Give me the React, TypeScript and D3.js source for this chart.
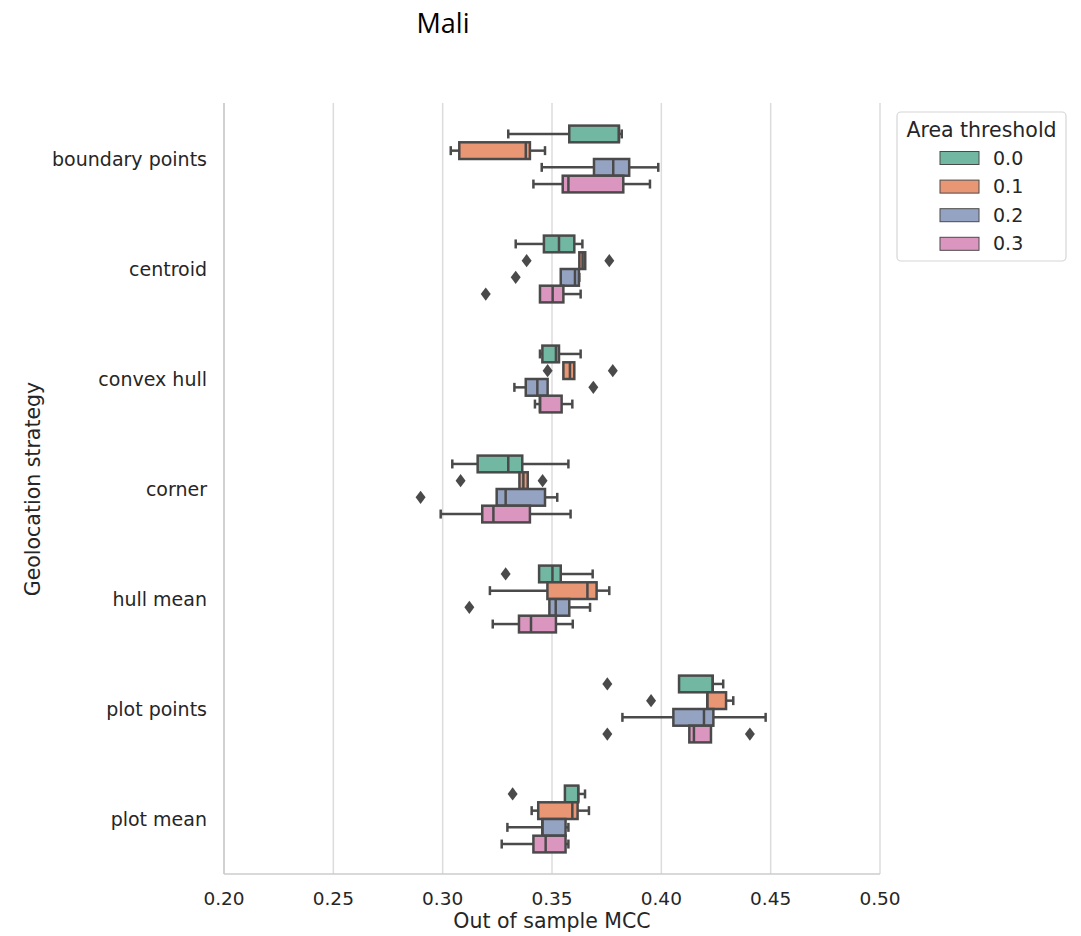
import React from "react";
import * as d3 from "d3";

// Geolocation strategies on the y axis
const categories = [
  "boundary points",
  "centroid",
  "convex hull",
  "corner",
  "hull mean",
  "plot points",
  "plot mean",
];

// Area threshold levels (hue)
const thresholds = ["0.0", "0.1", "0.2", "0.3"];
const thresholdColors = ["#71b7a1", "#e99675", "#95a3c3", "#db96c0"];

// Box stats per category: [whisker low, q1, median, q3, whisker high]
const stats00 = [
  [0.330, 0.3579, 0.3806, 0.3806, 0.3819],
  [0.3334, 0.3463, 0.3532, 0.3602, 0.3639],
  [0.3445, 0.3456, 0.3518, 0.3532, 0.3631],
  [0.3044, 0.316, 0.330, 0.3364, 0.3575],
  [0.3441, 0.3441, 0.3502, 0.354, 0.3686],
  [0.4081, 0.4081, 0.4235, 0.4235, 0.4283],
  [0.3559, 0.3559, 0.362, 0.362, 0.3651],
];
const stats01 = [
  [0.3037, 0.3076, 0.338, 0.3399, 0.3468],
  [0.3625, 0.3625, 0.364, 0.3652, 0.3652],
  [0.3552, 0.3552, 0.3582, 0.3602, 0.3602],
  [0.3351, 0.3351, 0.3369, 0.3389, 0.3389],
  [0.3216, 0.3479, 0.3662, 0.3704, 0.3762],
  [0.421, 0.421, 0.421, 0.4296, 0.4329],
  [0.3407, 0.3437, 0.3593, 0.3617, 0.3669],
];
const stats02 = [
  [0.3453, 0.3692, 0.378, 0.3853, 0.3986],
  [0.354, 0.354, 0.3605, 0.3623, 0.3625],
  [0.3328, 0.338, 0.3433, 0.348, 0.348],
  [0.3247, 0.3247, 0.3288, 0.3468, 0.3524],
  [0.3488, 0.3488, 0.3517, 0.3579, 0.3674],
  [0.3822, 0.4055, 0.4195, 0.4238, 0.4477],
  [0.3296, 0.3456, 0.3456, 0.3562, 0.3575],
];
const stats03 = [
  [0.3415, 0.3549, 0.3575, 0.3826, 0.3948],
  [0.3445, 0.3445, 0.3503, 0.3552, 0.3631],
  [0.3422, 0.3445, 0.3445, 0.3544, 0.3593],
  [0.2991, 0.3181, 0.3232, 0.3399, 0.3585],
  [0.3229, 0.3349, 0.3404, 0.3518, 0.3595],
  [0.4128, 0.4128, 0.4149, 0.4227, 0.4227],
  [0.327, 0.3415, 0.3471, 0.3562, 0.3575],
];
const allStats = [stats00, stats01, stats02, stats03];

// Outlier points per threshold, per category
const outliers00 = [[], [], [], [], [0.3288], [0.3753], [0.332]];
const outliers01 = [[], [0.3384, 0.3762], [0.348, 0.3778], [0.3082, 0.3457], [], [0.3953], []];
const outliers02 = [[], [0.3334], [0.3689], [0.2899], [0.3122], [], []];
const outliers03 = [[], [0.3197], [], [], [], [0.3753, 0.4405], []];
const allOutliers = [outliers00, outliers01, outliers02, outliers03];

const xTicks = [0.2, 0.25, 0.3, 0.35, 0.4, 0.45, 0.5];

const LINE = "#4a4a4a";
const TEXT = "#262626";
const FONT = "DejaVu Sans, sans-serif";
const LW = 2.5;

export default function App() {
  const left = 224;
  const right = 880;
  const top = 104;
  const bottom = 874;

  const x = d3.scaleLinear().domain([0.2, 0.5]).range([left, right]);
  const y = d3.scaleBand().domain(categories).range([top, bottom]);
  const hueStep = 16.7;
  const boxH = 16.7;
  const capH = 9;

  const diamond = d3.symbol().type(d3.symbolDiamond).size(60)() as string;

  return (
    <svg width={1081} height={936} style={{ position: "absolute", left: 0, top: 0, background: "#fff" }}>
      <text x={443} y={33} textAnchor="middle" fontFamily="Open Sans, sans-serif" fontSize={27} fill="#000">
        Mali
      </text>

      {/* vertical grid */}
      {xTicks.map((t) => (
        <line key={t} x1={x(t)} x2={x(t)} y1={top - 1} y2={bottom} stroke="#dcdcdc" strokeWidth={1.5} />
      ))}

      {/* spines */}
      <line x1={left} x2={left} y1={top - 1} y2={bottom} stroke="#cccccc" strokeWidth={1.6} />
      <line x1={left} x2={right} y1={bottom} y2={bottom} stroke="#cccccc" strokeWidth={1.6} />

      {/* boxes */}
      {categories.map((c, ci) => {
        const cy = (y(c) as number) + y.bandwidth() / 2;
        return (
          <g key={c}>
            {allStats.map((s, hi) => {
              const [lo, q1, med, q3, hiW] = s[ci];
              const yc = cy + (hi - 1.5) * hueStep;
              return (
                <g key={hi}>
                  <line x1={x(lo)} x2={x(q1)} y1={yc} y2={yc} stroke={LINE} strokeWidth={LW} />
                  <line x1={x(q3)} x2={x(hiW)} y1={yc} y2={yc} stroke={LINE} strokeWidth={LW} />
                  {lo < q1 && (
                    <line x1={x(lo)} x2={x(lo)} y1={yc - capH / 2} y2={yc + capH / 2} stroke={LINE} strokeWidth={LW} />
                  )}
                  {hiW > q3 && (
                    <line x1={x(hiW)} x2={x(hiW)} y1={yc - capH / 2} y2={yc + capH / 2} stroke={LINE} strokeWidth={LW} />
                  )}
                  <rect
                    x={x(q1)}
                    y={yc - boxH / 2}
                    width={x(q3) - x(q1)}
                    height={boxH}
                    fill={thresholdColors[hi]}
                    stroke={LINE}
                    strokeWidth={LW}
                  />
                  <line x1={x(med)} x2={x(med)} y1={yc - boxH / 2} y2={yc + boxH / 2} stroke={LINE} strokeWidth={LW} />
                  {allOutliers[hi][ci].map((o, oi) => (
                    <path
                      key={oi}
                      d={diamond}
                      transform={`translate(${x(o)},${yc}) scale(1.2,0.92)`}
                      fill={LINE}
                    />
                  ))}
                </g>
              );
            })}
          </g>
        );
      })}

      {/* y tick labels */}
      {categories.map((c) => (
        <text
          key={c}
          x={207}
          y={(y(c) as number) + y.bandwidth() / 2}
          dy="0.35em"
          textAnchor="end"
          fontFamily={FONT}
          fontSize={19}
          fill={TEXT}
        >
          {c}
        </text>
      ))}

      {/* x tick labels */}
      {xTicks.map((t) => (
        <text key={t} x={x(t)} y={905} textAnchor="middle" fontFamily={FONT} fontSize={18.5} fill={TEXT}>
          {d3.format(".2f")(t)}
        </text>
      ))}

      <text x={(left + right) / 2} y={928} textAnchor="middle" fontFamily={FONT} fontSize={20.5} fill={TEXT}>
        Out of sample MCC
      </text>
      <text
        transform={`translate(40,${(top + bottom) / 2}) rotate(-90)`}
        textAnchor="middle"
        fontFamily={FONT}
        fontSize={20.5}
        fill={TEXT}
      >
        Geolocation strategy
      </text>

      {/* legend */}
      <g>
        <rect x={897} y={112} width={169} height={149} rx={4} fill="#fff" stroke="#d6d6d6" strokeWidth={1.2} />
        <text x={981.5} y={137} textAnchor="middle" fontFamily={FONT} fontSize={20.5} fill={TEXT}>
          Area threshold
        </text>
        {thresholds.map((t, i) => {
          const ly = 158 + i * 28.6;
          return (
            <g key={t}>
              <rect x={940} y={ly - 6.5} width={39} height={13} fill={thresholdColors[i]} stroke={LINE} strokeWidth={1} />
              <text x={993} y={ly} dy="0.35em" fontFamily={FONT} fontSize={19} fill={TEXT}>
                {t}
              </text>
            </g>
          );
        })}
      </g>
    </svg>
  );
}
